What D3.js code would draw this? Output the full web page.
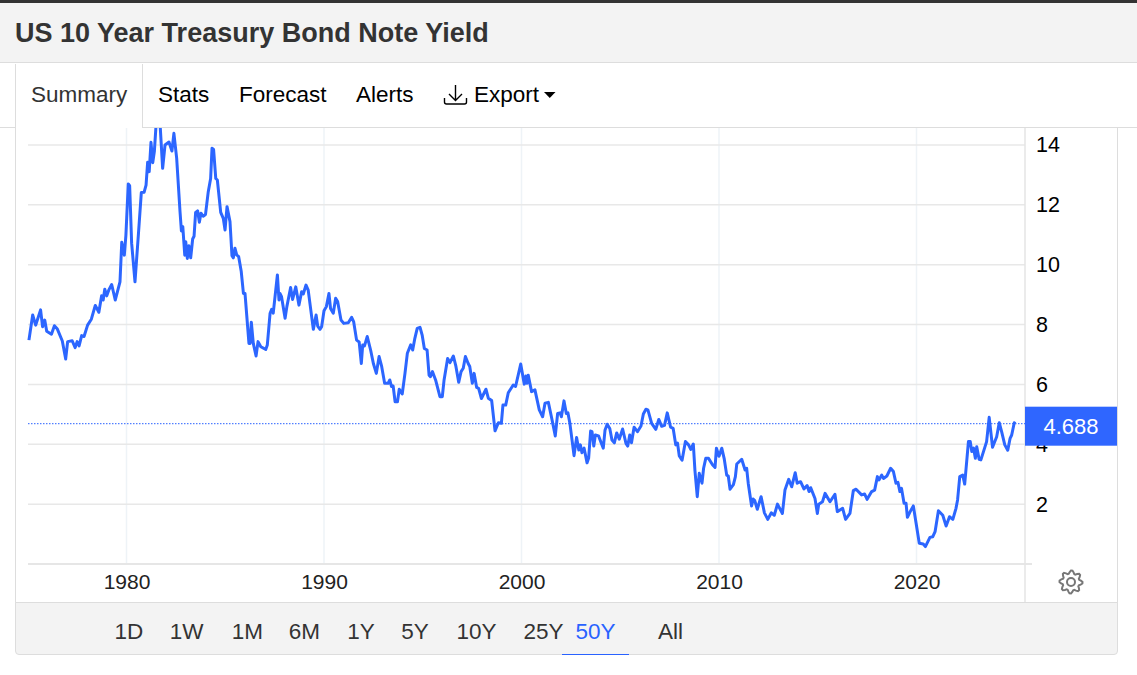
<!DOCTYPE html>
<html>
<head>
<meta charset="utf-8">
<title>US 10 Year Treasury Bond Note Yield</title>
<script src="https://cdn.jsdelivr.net/npm/d3@7"></script>
<style>
  html, body { margin: 0; padding: 0; background: #fff; }
  body { width: 1137px; height: 675px; position: relative; overflow: hidden; font-family: "Liberation Sans", Arial, sans-serif; }
  #chart { position: absolute; left: 0; top: 0; }
  #topbar { position: absolute; left: 0; top: 0; width: 1137px; height: 3px; background: #333; }
  #title { position: absolute; left: 0; top: 3px; width: 1137px; height: 60px; box-sizing: border-box; background: #f3f3f3; border-bottom: 1px solid #ddd; padding-left: 15px; line-height: 60px; font-size: 27px; font-weight: bold; color: #333; }
  #tabs { position: absolute; left: 0; top: 64px; width: 1137px; height: 64px; box-sizing: border-box; background: #fff; border-bottom: 1px solid #ddd; }
  .tab { position: absolute; top: 0; height: 62px; line-height: 62px; font-size: 22.5px; color: #000; white-space: nowrap; }
  .tab.active { color: #333; }
  #activeTab { position: absolute; left: 15px; top: 0; width: 128px; height: 64px; box-sizing: border-box; background: #fff; border-left: 1px solid #ddd; border-right: 1px solid #ddd; }
  #footer { position: absolute; left: 15px; top: 602px; width: 1103px; height: 53px; box-sizing: border-box; background: #f3f3f3; border: 1px solid #ddd; border-radius: 0 0 4px 4px; }
  .range { position: absolute; top: 0; height: 51px; line-height: 57px; font-size: 22.5px; color: #333; text-align: center; white-space: nowrap; }
  .range.active { color: #2962ff; border-bottom: 1px solid #2962ff; }
</style>
</head>
<body>
<svg id="chart" width="1137" height="675"></svg>
<div id="topbar"></div>
<div id="title"></div>
<div id="tabs"><div id="activeTab"></div></div>
<div id="footer"></div>
<script>
var titleText = 'US 10 Year Treasury Bond Note Yield'
var tabNames = ['Summary', 'Stats', 'Forecast', 'Alerts', 'Export']
var rangeNames = ['1D', '1W', '1M', '6M', '1Y', '5Y', '10Y', '25Y', '50Y', 'All']
var activeRange = '50Y'
var xTicks = [1980, 1990, 2000, 2010, 2020]
var yTicks = [2, 4, 6, 8, 10, 12, 14]
var lastValue = 4.688

// decimal years
var years = [
  1975.06, 1975.25, 1975.4, 1975.65, 1975.75, 1975.86, 1975.96, 1976.2, 1976.35, 1976.5, 1976.75, 1976.92,
  1977.02, 1977.25, 1977.4, 1977.5, 1977.6, 1977.73, 1977.85, 1978.03, 1978.22, 1978.42, 1978.6, 1978.74,
  1978.82, 1978.9, 1979, 1979.1, 1979.25, 1979.43, 1979.67, 1979.76, 1979.89, 1979.97, 1980.09, 1980.16,
  1980.26, 1980.43, 1980.6, 1980.75, 1980.89, 1980.99, 1981.07, 1981.15, 1981.24, 1981.33, 1981.41, 1981.49,
  1981.58, 1981.7, 1981.83, 1981.95, 1982.15, 1982.3, 1982.4, 1982.54, 1982.71, 1982.78, 1982.85, 1982.95,
  1983, 1983.08, 1983.16, 1983.25, 1983.35, 1983.42, 1983.5, 1983.6, 1983.69, 1983.77, 1983.88, 1984,
  1984.14, 1984.26, 1984.33, 1984.41, 1984.52, 1984.6, 1984.77, 1984.9, 1984.99, 1985.09, 1985.24, 1985.34,
  1985.41, 1985.49, 1985.58, 1985.68, 1985.81, 1985.92, 1986, 1986.2, 1986.26, 1986.32, 1986.42, 1986.56,
  1986.66, 1986.8, 1987.05, 1987.13, 1987.27, 1987.35, 1987.43, 1987.64, 1987.72, 1987.77, 1987.85, 1988.03,
  1988.12, 1988.31, 1988.41, 1988.57, 1988.73, 1988.87, 1988.95, 1989.09, 1989.2, 1989.46, 1989.6, 1989.68,
  1989.8, 1989.88, 1990, 1990.12, 1990.25, 1990.33, 1990.47, 1990.59, 1990.69, 1990.86, 1991, 1991.23,
  1991.4, 1991.5, 1991.65, 1991.78, 1991.89, 1991.96, 1992.05, 1992.19, 1992.36, 1992.5, 1992.65, 1992.79,
  1992.92, 1993.07, 1993.25, 1993.33, 1993.42, 1993.5, 1993.6, 1993.72, 1993.81, 1993.96, 1994.1, 1994.22,
  1994.39, 1994.49, 1994.6, 1994.72, 1994.86, 1994.97, 1995.08, 1995.22, 1995.32, 1995.39, 1995.49, 1995.65,
  1995.87, 1995.99, 1996.08, 1996.26, 1996.38, 1996.55, 1996.68, 1996.82, 1996.94, 1997.05, 1997.16, 1997.3,
  1997.38, 1997.51, 1997.6, 1997.73, 1997.83, 1997.97, 1998.2, 1998.32, 1998.49, 1998.66, 1998.83, 1998.98,
  1999.06, 1999.2, 1999.33, 1999.58, 1999.7, 1999.96, 2000.14, 2000.22, 2000.28, 2000.34, 2000.51, 2000.68,
  2000.9, 2001.07, 2001.19, 2001.36, 2001.53, 2001.71, 2001.83, 2001.95, 2002.02, 2002.15, 2002.27, 2002.35,
  2002.45, 2002.66, 2002.79, 2002.9, 2002.98, 2003.06, 2003.17, 2003.32, 2003.4, 2003.5, 2003.57, 2003.66,
  2003.74, 2003.9, 2004.14, 2004.23, 2004.34, 2004.47, 2004.58, 2004.7, 2004.82, 2004.95, 2005.12, 2005.29,
  2005.38, 2005.48, 2005.57, 2005.7, 2005.87, 2006.05, 2006.17, 2006.3, 2006.4, 2006.59, 2006.8, 2006.95,
  2007.1, 2007.24, 2007.38, 2007.55, 2007.68, 2007.81, 2007.9, 2007.99, 2008.13, 2008.3, 2008.46, 2008.57,
  2008.7, 2008.78, 2008.9, 2009, 2009.14, 2009.22, 2009.33, 2009.47, 2009.68, 2009.8, 2009.87, 2010,
  2010.14, 2010.26, 2010.39, 2010.47, 2010.56, 2010.73, 2010.83, 2010.9, 2011.15, 2011.32, 2011.4, 2011.48,
  2011.65, 2011.73, 2011.81, 2011.94, 2012.13, 2012.3, 2012.47, 2012.65, 2012.8, 2012.96, 2013.21, 2013.34,
  2013.53, 2013.68, 2013.86, 2013.96, 2014.13, 2014.3, 2014.46, 2014.56, 2014.64, 2014.86, 2014.98, 2015.05,
  2015.24, 2015.37, 2015.62, 2015.87, 2015.99, 2016.26, 2016.41, 2016.63, 2016.8, 2016.94, 2017.22, 2017.37,
  2017.5, 2017.73, 2017.88, 2018.02, 2018.1, 2018.24, 2018.33, 2018.5, 2018.69, 2018.83, 2018.96, 2019.06,
  2019.16, 2019.24, 2019.37, 2019.47, 2019.54, 2019.68, 2019.84, 2019.98, 2020.14, 2020.34, 2020.45, 2020.68,
  2020.82, 2020.94, 2021.11, 2021.33, 2021.5, 2021.67, 2021.84, 2022, 2022.08, 2022.19, 2022.34, 2022.44,
  2022.63, 2022.72, 2022.8, 2022.89, 2022.98, 2023.05, 2023.17, 2023.26, 2023.55, 2023.68, 2023.85, 2024.06,
  2024.19, 2024.31, 2024.47, 2024.62, 2024.74, 2024.82, 2024.95, 2025
]
var yields = [
  7.48, 8.32, 7.98, 8.49, 7.93, 8.15, 7.78, 7.68, 7.96, 7.85, 7.45, 6.85,
  7.43, 7.46, 7.23, 7.43, 7.29, 7.63, 7.6, 7.98, 8.18, 8.64, 8.41, 8.96,
  8.82, 9.18, 8.96, 9.15, 9.34, 8.82, 9.43, 10.75, 10.32, 10.99, 12.7, 12.64,
  10.72, 9.43, 10.99, 12.41, 12.42, 12.66, 13.42, 13.11, 14.09, 13.41, 13.78, 14.6,
  15.3, 14.7, 13.22, 14, 14.1, 13.8, 14.39, 13.56, 11.77, 11.13, 11.27, 10.32,
  10.77, 10.21, 10.63, 10.23, 10.86, 10.95, 11.75, 11.8, 11.42, 11.72, 11.62, 11.68,
  12.44, 12.88, 13.89, 13.85, 12.88, 12.83, 11.75, 11.55, 11.16, 11.94, 11.44, 10.3,
  10.23, 10.55, 10.33, 10.27, 9.77, 9.04, 9.04, 7.37, 7.37, 8.08, 7.37, 6.95,
  7.43, 7.26, 7.17, 7.32, 8.38, 8.51, 8.38, 9.66, 8.82, 9.04, 8.93, 8.21,
  8.6, 9.24, 8.84, 9.26, 8.65, 9.1, 9.02, 9.32, 9.15, 7.84, 8.32, 7.95,
  7.84, 7.93, 8.46, 8.6, 9.04, 8.54, 8.38, 8.88, 8.77, 8.15, 8.04, 8.06,
  8.24, 8.1, 7.48, 7.42, 6.7, 7.32, 7.29, 7.6, 7.15, 6.7, 6.37, 6.93,
  6.6, 6.04, 6.04, 6.15, 5.93, 5.95, 5.42, 5.42, 5.84, 5.68, 6.37, 7.04,
  7.32, 7.15, 7.54, 7.87, 7.91, 7.65, 7.2, 7.15, 6.31, 6.26, 6.43, 6.15,
  5.59, 5.59, 6.15, 6.87, 6.73, 6.95, 6.6, 6.07, 6.43, 6.54, 6.93, 6.7,
  6.6, 6.04, 6.37, 5.9, 5.87, 5.53, 5.84, 5.54, 5.46, 4.45, 4.72, 4.7,
  5.31, 5.31, 5.72, 5.98, 5.93, 6.68, 6.01, 6.28, 6.04, 6.31, 5.76, 5.82,
  5.15, 4.92, 5.37, 5.4, 4.87, 4.28, 5.03, 5.05, 4.92, 5.45, 5.03, 5.05,
  4.7, 3.62, 4.23, 3.81, 3.98, 3.72, 3.87, 3.38, 3.54, 4.44, 4.42, 3.94,
  4.31, 4.28, 3.87, 4.48, 4.67, 4.53, 4.14, 4.05, 4.38, 4.17, 4.51, 4.03,
  3.94, 4.31, 4.05, 4.57, 4.42, 4.61, 5.01, 5.17, 5.15, 4.7, 4.5, 4.83,
  4.6, 4.63, 5.05, 4.57, 4.53, 3.98, 4.04, 3.61, 3.47, 4.09, 3.98, 3.83,
  4.01, 3.14, 2.25, 3.03, 2.7, 3.2, 3.53, 3.53, 3.31, 3.23, 3.87, 3.6,
  3.87, 3.53, 2.97, 2.94, 2.5, 2.65, 2.92, 3.34, 3.5, 3.14, 3.2, 2.7,
  1.94, 2.17, 2.12, 1.83, 2.25, 1.71, 1.49, 1.71, 1.63, 2, 1.69, 2.47,
  2.83, 2.58, 3.05, 2.7, 2.75, 2.51, 2.62, 2.42, 2.55, 2.19, 1.69, 2,
  2.08, 2.36, 2.08, 2.33, 1.75, 1.86, 1.49, 1.69, 2.45, 2.5, 2.31, 2.34,
  2.16, 2.42, 2.47, 2.92, 2.81, 2.97, 2.86, 2.94, 3.2, 3.09, 2.7, 2.73,
  2.42, 2.53, 2.03, 2.03, 1.56, 1.75, 1.94, 1.36, 0.69, 0.67, 0.58, 0.89,
  0.91, 1.08, 1.78, 1.63, 1.27, 1.58, 1.49, 1.86, 2.14, 2.92, 2.97, 2.67,
  4.09, 4.09, 3.76, 3.87, 3.53, 3.92, 3.5, 3.48, 4.09, 4.9, 3.9, 4.25,
  4.72, 4.42, 3.98, 3.8, 4.2, 4.31, 4.72, lastValue
]

var left = 28, right = 1025, bottom = 564
var top14 = 145

var x = d3.scaleLinear().domain([1980, 2020]).range([126.5, 916.5])
var y = d3.scaleLinear().domain([0, 14]).range([bottom, top14])

var svg = d3.select('#chart')
var font = '"Liberation Sans", Arial, sans-serif'

// Vertical grid
svg.selectAll('line.v')
    .data(xTicks)
  .enter().append('line')
    .attr('class', 'v')
    .attr('x1', function(d){ return x(d) })
    .attr('x2', function(d){ return x(d) })
    .attr('y1', 128)
    .attr('y2', bottom)
    .style('stroke', '#eef3f7')
    .style('stroke-width', 1.5)

// Horizontal grid
svg.selectAll('line.h')
    .data(yTicks)
  .enter().append('line')
    .attr('class', 'h')
    .attr('x1', left)
    .attr('x2', right)
    .attr('y1', function(d){ return y(d) })
    .attr('y2', function(d){ return y(d) })
    .style('stroke', '#e8e8e8')
    .style('stroke-width', 1.5)

// Base line and right edge
svg.append('line')
    .attr('x1', left).attr('x2', 1032)
    .attr('y1', bottom).attr('y2', bottom)
    .style('stroke', '#e6e6e6')
    .style('stroke-width', 2)
svg.append('line')
    .attr('x1', right).attr('x2', right)
    .attr('y1', 128).attr('y2', 602)
    .style('stroke', '#e4e4e4')
    .style('stroke-width', 1.5)

// Panel sides
svg.append('line')
    .attr('x1', 15.5).attr('x2', 15.5)
    .attr('y1', 64).attr('y2', 650)
    .style('stroke', '#ddd')
svg.append('line')
    .attr('x1', 1117.5).attr('x2', 1117.5)
    .attr('y1', 128).attr('y2', 650)
    .style('stroke', '#ddd')

// Axes
var xAxis = d3.axisBottom(x).tickValues(xTicks).tickFormat(d3.format('d')).tickSize(0).tickPadding(10)
var yAxis = d3.axisRight(y).tickValues(yTicks).tickSize(0).tickPadding(11)

var gx = svg.append('g').attr('transform', 'translate(0,' + bottom + ')').call(xAxis)
var gy = svg.append('g').attr('transform', 'translate(' + right + ',0)').call(yAxis)
gx.select('.domain').remove()
gy.select('.domain').remove()
gx.selectAll('text').style('font-family', font).style('font-size', '21px').style('fill', '#222')
gy.selectAll('text').style('font-family', font).style('font-size', '21.5px').style('fill', '#000')

// Last value level
svg.append('line')
    .attr('x1', left).attr('x2', right)
    .attr('y1', y(lastValue)).attr('y2', y(lastValue))
    .style('stroke', '#2962ff')
    .style('stroke-width', 1)
    .style('stroke-dasharray', '1.5,1.5')

// Series
var line = d3.line()
  .x(function(d){ return x(d) })
  .y(function(d, i){ return y(yields[i]) })

svg.append('path')
    .datum(years)
    .attr('d', line)
    .style('fill', 'none')
    .style('stroke', '#2c66ff')
    .style('stroke-width', 3)
    .style('stroke-linejoin', 'round')

// Last value label
svg.append('rect')
    .attr('x', right)
    .attr('y', y(lastValue) - 17)
    .attr('width', 92)
    .attr('height', 39)
    .style('fill', '#2f66ff')
svg.append('text')
    .attr('x', right + 46)
    .attr('y', y(lastValue) + 10)
    .attr('text-anchor', 'middle')
    .style('font-family', font)
    .style('font-size', '22px')
    .style('fill', '#fff')
    .text(d3.format('.3f')(lastValue))

// Settings gear
var gear = svg.append('g').attr('transform', 'translate(1071,582)')
var teeth = d3.range(0, 48).map(function(i){
  var k = i % 6
  return [i / 48 * 2 * Math.PI, k < 2 ? 11.5 : (k === 2 || k === 5 ? 10 : 8.5)]
})
gear.append('path')
    .attr('d', d3.lineRadial().curve(d3.curveLinearClosed)(teeth))
    .style('fill', 'none')
    .style('stroke', '#777')
    .style('stroke-width', 2)
gear.append('circle')
    .attr('r', 4)
    .style('fill', 'none')
    .style('stroke', '#777')
    .style('stroke-width', 2)

// Page chrome
d3.select('#title').text(titleText)

var tabLefts = { Summary: 31, Stats: 158, Forecast: 239, Alerts: 356, Export: 474 }
d3.select('#tabs').selectAll('div.tab')
    .data(tabNames)
  .enter().append('div')
    .attr('class', function(d){ return d === 'Summary' ? 'tab active' : 'tab' })
    .style('left', function(d){ return tabLefts[d] + 'px' })
    .text(function(d){ return d })

// Export icon and caret
var icons = d3.select('#tabs').append('svg')
    .attr('width', 1137).attr('height', 64)
    .style('position', 'absolute').style('left', 0).style('top', 0)
    .style('pointer-events', 'none')
icons.append('path')
    .attr('d', 'M455.5 21V36M449 30l6.5 6.5L462 30M444.5 34v4a2 2 0 0 0 2 2h18a2 2 0 0 0 2-2v-4')
    .style('fill', 'none')
    .style('stroke', '#000')
    .style('stroke-width', 1.4)
icons.append('path')
    .attr('d', 'M544 28h11.5l-5.75 6z')
    .style('fill', '#000')

var rangeLefts = [100, 156, 218, 275, 334, 388, 443, 510, 562, 644]
var rangeWidths = [58, 61, 59, 59, 54, 54, 67, 67, 67, 53]
d3.select('#footer').selectAll('div.range')
    .data(rangeNames)
  .enter().append('div')
    .attr('class', function(d){ return d === activeRange ? 'range active' : 'range' })
    .style('left', function(d, i){ return (rangeLefts[i] - 16) + 'px' })
    .style('width', function(d, i){ return rangeWidths[i] + 'px' })
    .text(function(d){ return d })
</script>
</body>
</html>
